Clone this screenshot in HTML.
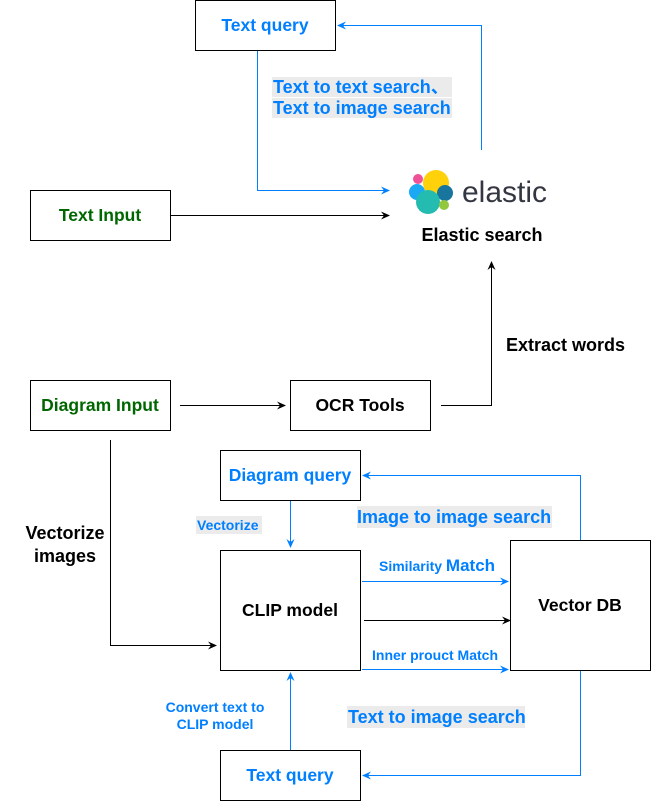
<!DOCTYPE html>
<html><head><meta charset="utf-8"><style>
body{margin:0;background:#fff}
svg text{font-family:"Liberation Sans","Noto Sans CJK SC",sans-serif;font-weight:bold}
</style></head><body>
<svg width="651" height="802" viewBox="0 0 651 802" xmlns="http://www.w3.org/2000/svg">
<defs>
<marker id="ab" markerWidth="10" markerHeight="10" refX="8" refY="5" orient="auto" markerUnits="userSpaceOnUse"><path d="M0,1 L9,5 L0,9 L3,5 z" fill="#007FFF"/></marker>
<marker id="ak" markerWidth="10" markerHeight="10" refX="8" refY="5" orient="auto" markerUnits="userSpaceOnUse"><path d="M0,1 L9,5 L0,9 L3,5 z" fill="#000"/></marker>
</defs>
<g fill="#fff" stroke="#000" stroke-width="1">
<rect x="195.5" y="0.5" width="140" height="50"/>
<rect x="30.5" y="190.5" width="140" height="50"/>
<rect x="30.5" y="380.5" width="140" height="50"/>
<rect x="290.5" y="380.5" width="140" height="50"/>
<rect x="220.5" y="450.5" width="140" height="50"/>
<rect x="220.5" y="550.5" width="140" height="120"/>
<rect x="510.5" y="540.5" width="140" height="130"/>
<rect x="220.5" y="750.5" width="140" height="50"/>
</g>
<g fill="#ebebeb">
<rect x="272" y="77" width="180" height="20"/>
<rect x="272" y="98" width="180" height="20"/>
<rect x="196" y="516" width="66" height="18"/>
<rect x="357" y="506" width="195" height="22"/>
<rect x="347" y="706" width="178" height="22"/>
</g>
<g fill="none" stroke="#007FFF" stroke-width="1">
<path d="M257.5 51 V190.5 H389" marker-end="url(#ab)"/>
<path d="M481.5 150 V25.5 H338" marker-end="url(#ab)"/>
<path d="M290.5 501 V547" marker-end="url(#ab)"/>
<path d="M362 581.5 H508" marker-end="url(#ab)"/>
<path d="M362 669.5 H508" marker-end="url(#ab)"/>
<path d="M580.5 540 V475.5 H363" marker-end="url(#ab)"/>
<path d="M580.5 671 V775.5 H363" marker-end="url(#ab)"/>
<path d="M290.5 750 V673" marker-end="url(#ab)"/>
</g>
<g fill="none" stroke="#000" stroke-width="1">
<path d="M171 215.5 H389" marker-end="url(#ak)"/>
<path d="M441 405.5 H491.5 V262" marker-end="url(#ak)"/>
<path d="M180 405.5 H285" marker-end="url(#ak)"/>
<path d="M110.5 440 V645.5 H216" marker-end="url(#ak)"/>
<path d="M364 620.5 H510" marker-end="url(#ak)"/>
</g>
<circle cx="418" cy="179" r="5" fill="#ef5098"/>
<circle cx="417" cy="192" r="8" fill="#1ba9f5"/>
<circle cx="436" cy="183" r="13" fill="#fed10a"/>
<circle cx="445" cy="193" r="8" fill="#17759e"/>
<circle cx="428" cy="202" r="12" fill="#24bbb1"/>
<circle cx="444" cy="205" r="5" fill="#93c83e"/>
<text x="462" y="202" font-size="30" fill="#343741" style="font-weight:normal">elastic</text>
<g font-size="17.5" text-anchor="middle">
<text x="265" y="31" fill="#007FFF">Text query</text>
<text x="100" y="221" fill="#006600">Text Input</text>
<text x="100" y="411" fill="#006600">Diagram Input</text>
<text x="360" y="411" fill="#000">OCR Tools</text>
<text x="290" y="481" fill="#007FFF">Diagram query</text>
<text x="290" y="616" fill="#000">CLIP model</text>
<text x="580" y="611" fill="#000">Vector DB</text>
<text x="290" y="781" fill="#007FFF">Text query</text>
</g>
<g font-size="18" text-anchor="middle">
<text x="482" y="241" fill="#000">Elastic search</text>
<text x="65" y="539" fill="#000">Vectorize</text>
<text x="65" y="562" fill="#000">images</text>
</g>
<g font-size="18">
<text x="506" y="351" fill="#000">Extract words</text>
<text x="273" y="93" fill="#007FFF">Text to text search、</text>
<text x="273" y="114" fill="#007FFF">Text to image search</text>
<text x="357" y="523" fill="#007FFF">Image to image search</text>
<text x="348" y="723" fill="#007FFF">Text to image search</text>
</g>
<g font-size="14" fill="#007FFF">
<text x="197" y="530">Vectorize</text>
<text x="379" y="571">Similarity <tspan font-size="17">Match</tspan></text>
<text x="372" y="660">Inner prouct Match</text>
<text x="215" y="712" text-anchor="middle">Convert text to</text>
<text x="215" y="729" text-anchor="middle">CLIP model</text>
</g>
</svg>
</body></html>
